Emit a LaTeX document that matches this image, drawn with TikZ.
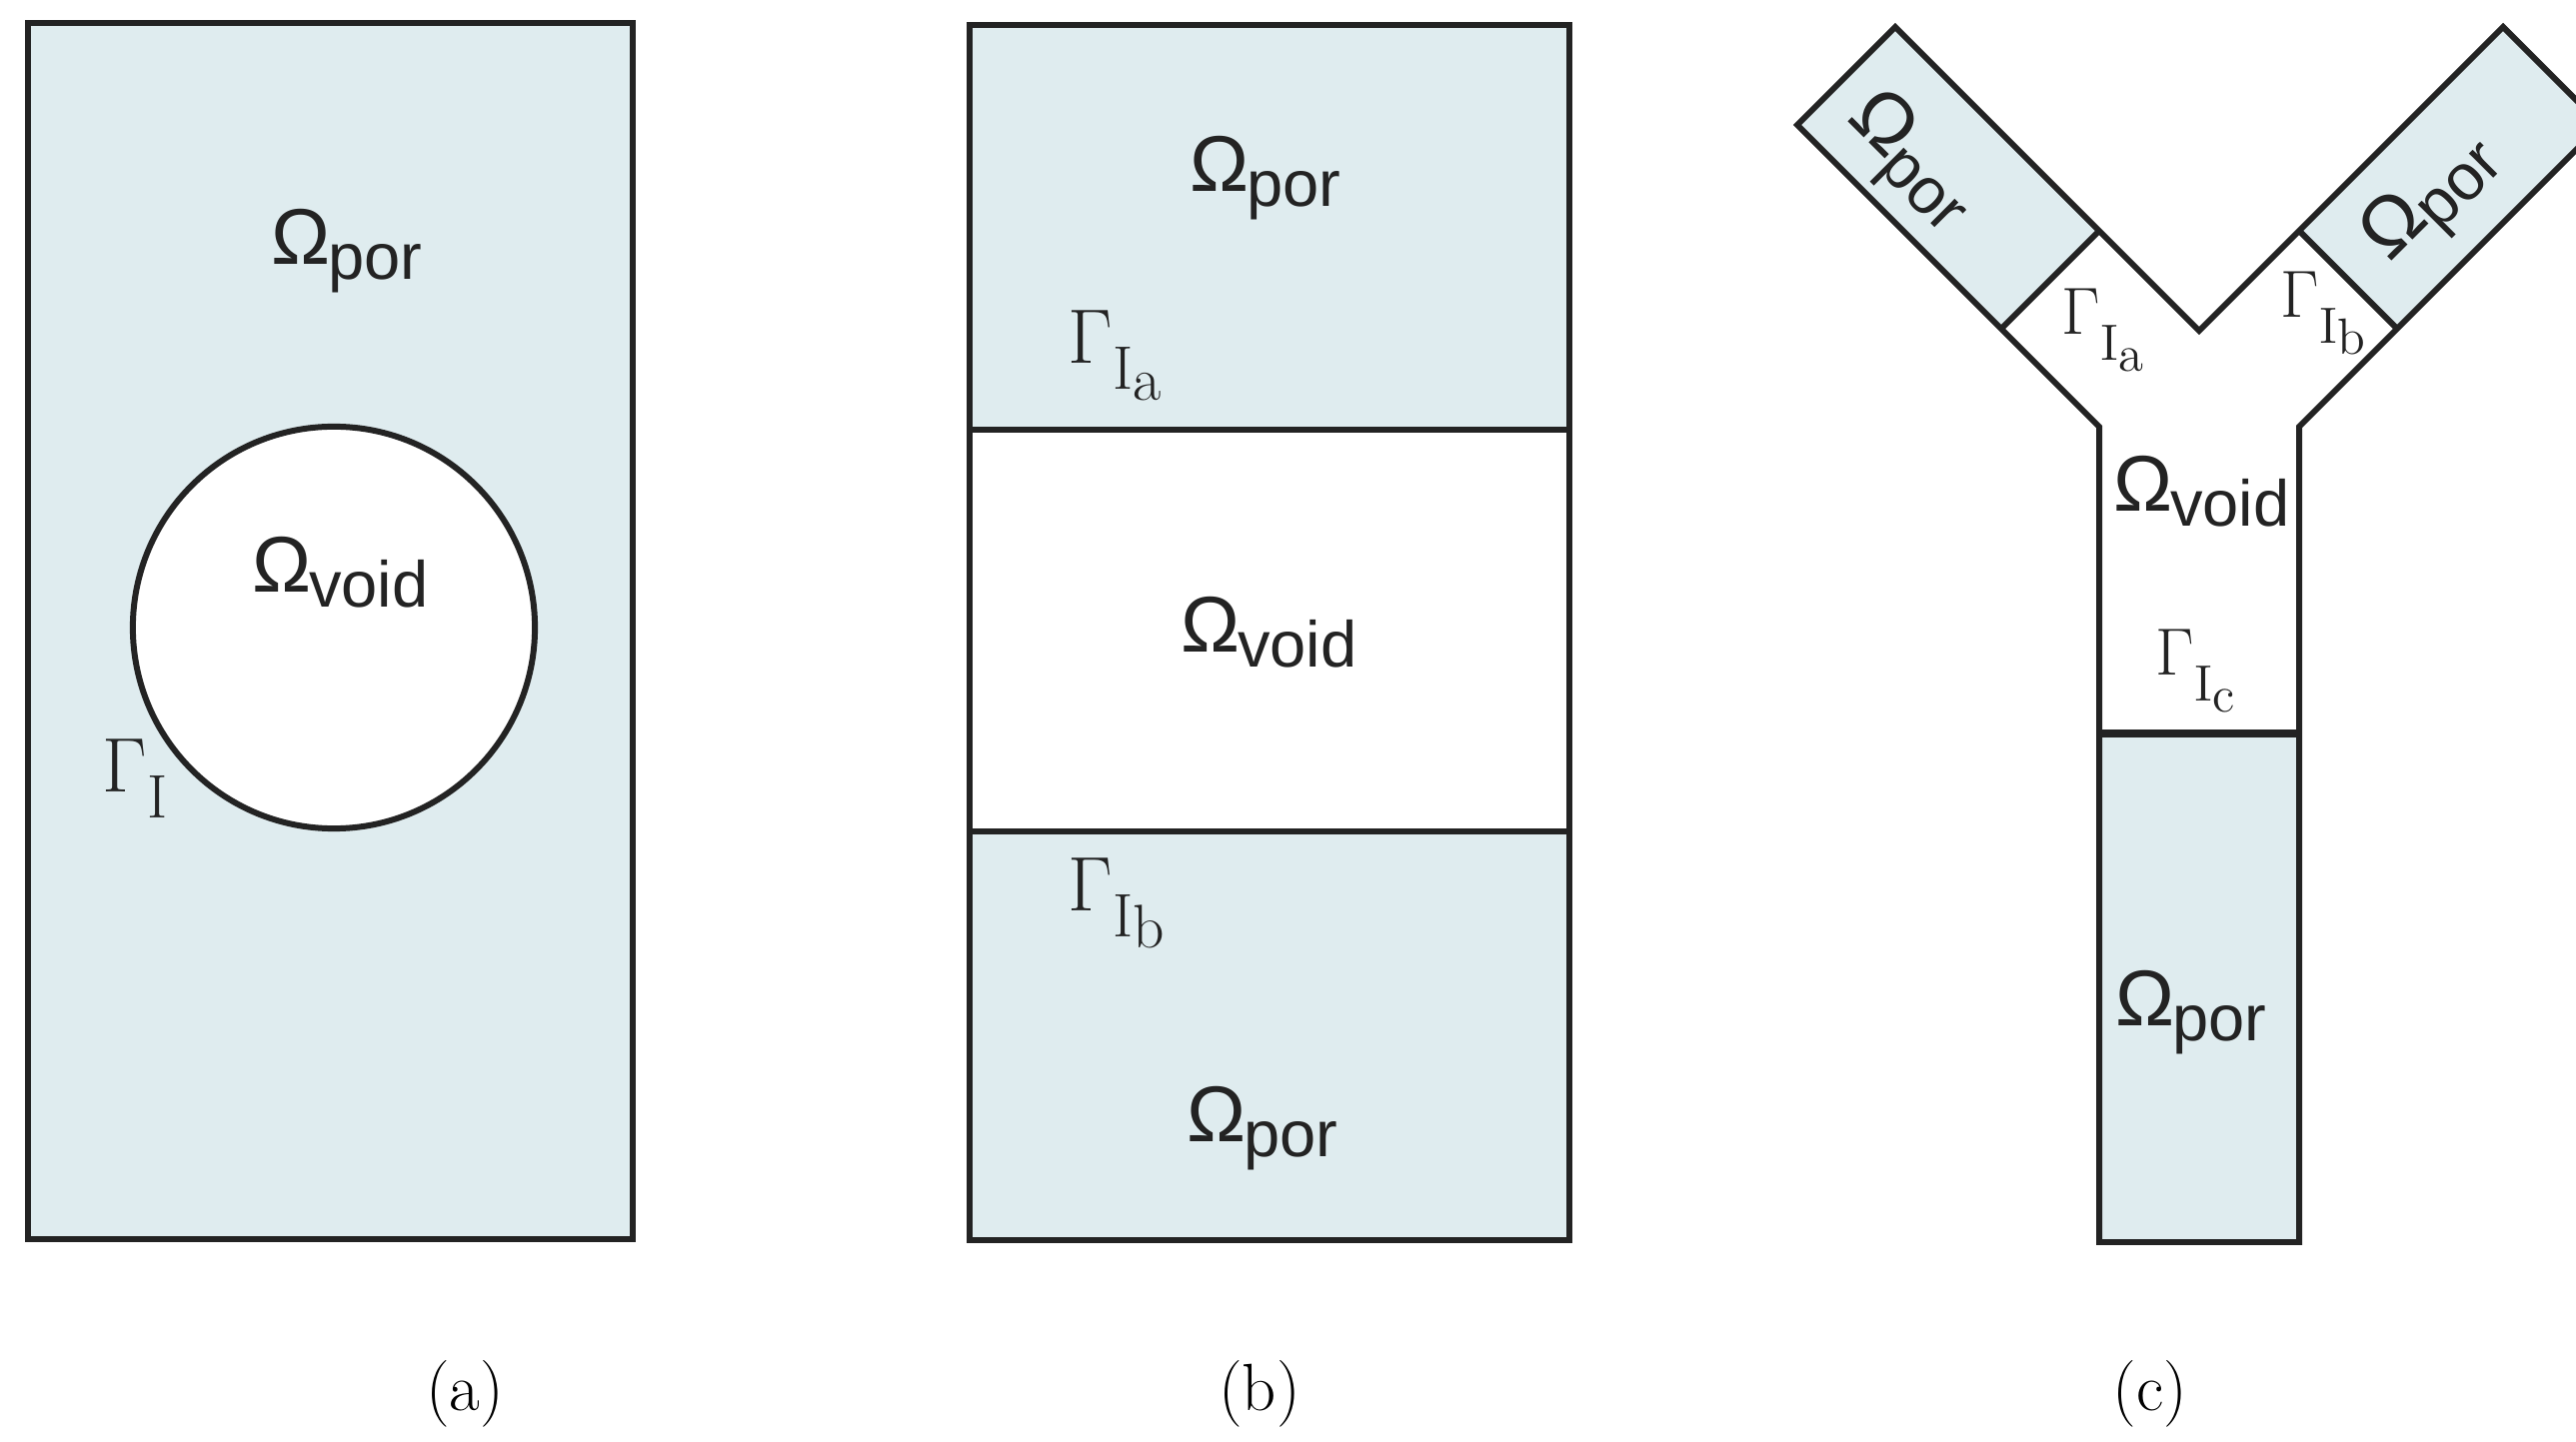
\documentclass[tikz,border=0pt]{standalone}
\usepackage{fix-cm}
\usepackage[no-math]{fontspec}
\newfontfamily\lsans{Liberation Sans}
\definecolor{porfill}{RGB}{223,236,239}
\definecolor{ink}{RGB}{35,35,35}
\newcommand{\Om}[2][-0.6pt]{{\lsans\fontsize{22.5}{22.5}\selectfont Ω\kern#1\raisebox{-4pt}{\fontsize{18.5}{18.5}\selectfont #2}}}
\newcommand{\GI}[3]{{\fontsize{#1}{#1}\selectfont$\Gamma$\kern0.3pt\raisebox{-7.3pt}{\fontsize{#2}{#2}\selectfont I\raisebox{-3.2pt}{#3}}}}
\tikzset{
  por/.style={fill=porfill},
  edge/.style={draw=ink, line width=1.7pt, line join=miter},
  lab/.style={inner sep=0pt, outer sep=0pt, anchor=base west, text=ink},
  rlab/.style={inner sep=0pt, outer sep=0pt, anchor=center, text=ink},
  captext/.style={inner sep=0pt, anchor=base, font=\fontsize{19}{19}\selectfont}
}
\begin{document}
\begin{tikzpicture}[x=0.01cm, y=-0.01cm]
\useasboundingbox (0,0) rectangle (2577,1443);
% ---------- panel (a)
\fill[por] (28,23) rectangle (633,1240);
\fill[white] (334,628) circle[radius=2.01cm];
\draw[edge] (28,23) rectangle (633,1240);
\draw[edge] (334,628) circle[radius=2.01cm];
\node[lab] (apor) at (271,265) {\Om{por}};
\node[lab] (avoid) at (252,593) {\Om{void}};
\node[lab] (agam) at (102,793) {\GI{22}{17.5}{}};
\node[captext] (capa) at (465,1412) {(a)};
% ---------- panel (b)
\fill[por] (970,25) rectangle (1570,430);
\fill[por] (970,832) rectangle (1570,1241);
\draw[edge] (970,25) rectangle (1570,1241);
\draw[edge] (970,430) -- (1570,430);
\draw[edge] (970,832) -- (1570,832);
\node[lab] (bpor1) at (1190,192) {\Om{por}};
\node[lab] (bgama) at (1068,364) {\GI{22}{17.5}{a}};
\node[lab] (bvoid) at (1181,653) {\Om{void}};
\node[lab] (bgamb) at (1068,912) {\GI{22}{17.5}{b}};
\node[lab] (bpor2) at (1187,1143) {\Om{por}};
\node[captext] (capb) at (1260,1412) {(b)};
% ---------- panel (c)
\begin{scope}
\clip (0,0) rectangle (2577,1443);
\fill[por] (1798,125) -- (1896,27) -- (2100,231) -- (2002,329) -- cycle;
\fill[por] (2602,125) -- (2504,27) -- (2300,231) -- (2398,329) -- cycle;
\fill[por] (2100,734) rectangle (2300,1243);
\draw[edge] (2100,1243) -- (2100,427) -- (1798,125) -- (1896,27) -- (2200,331)
  -- (2504,27) -- (2602,125) -- (2300,427) -- (2300,1243) -- cycle;
\draw[edge] (2002,329) -- (2100,231);
\draw[edge] (2398,329) -- (2300,231);
\draw[edge, line width=2.2pt] (2100,734) -- (2300,734);
\end{scope}
\node[rlab, rotate=-45] (cpor1) at (1910,163) {\Om{por}};
\node[rlab, rotate=45] (cpor2) at (2434,200) {\Om{por}};
\node[lab] (cgama) at (2062,335) {\GI{19}{14.5}{a}};
\node[lab] (cgamb) at (2281,318) {\GI{19}{14.5}{b}};
\node[lab] (cvoid) at (2114,512) {\Om{void}};
\node[lab] (cgamc) at (2156,676) {\GI{19}{14.5}{c}};
\node[lab] (cpor3) at (2116,1027) {\Om{por}};
\node[captext] (capc) at (2151,1412) {(c)};
\end{tikzpicture}
\end{document}
